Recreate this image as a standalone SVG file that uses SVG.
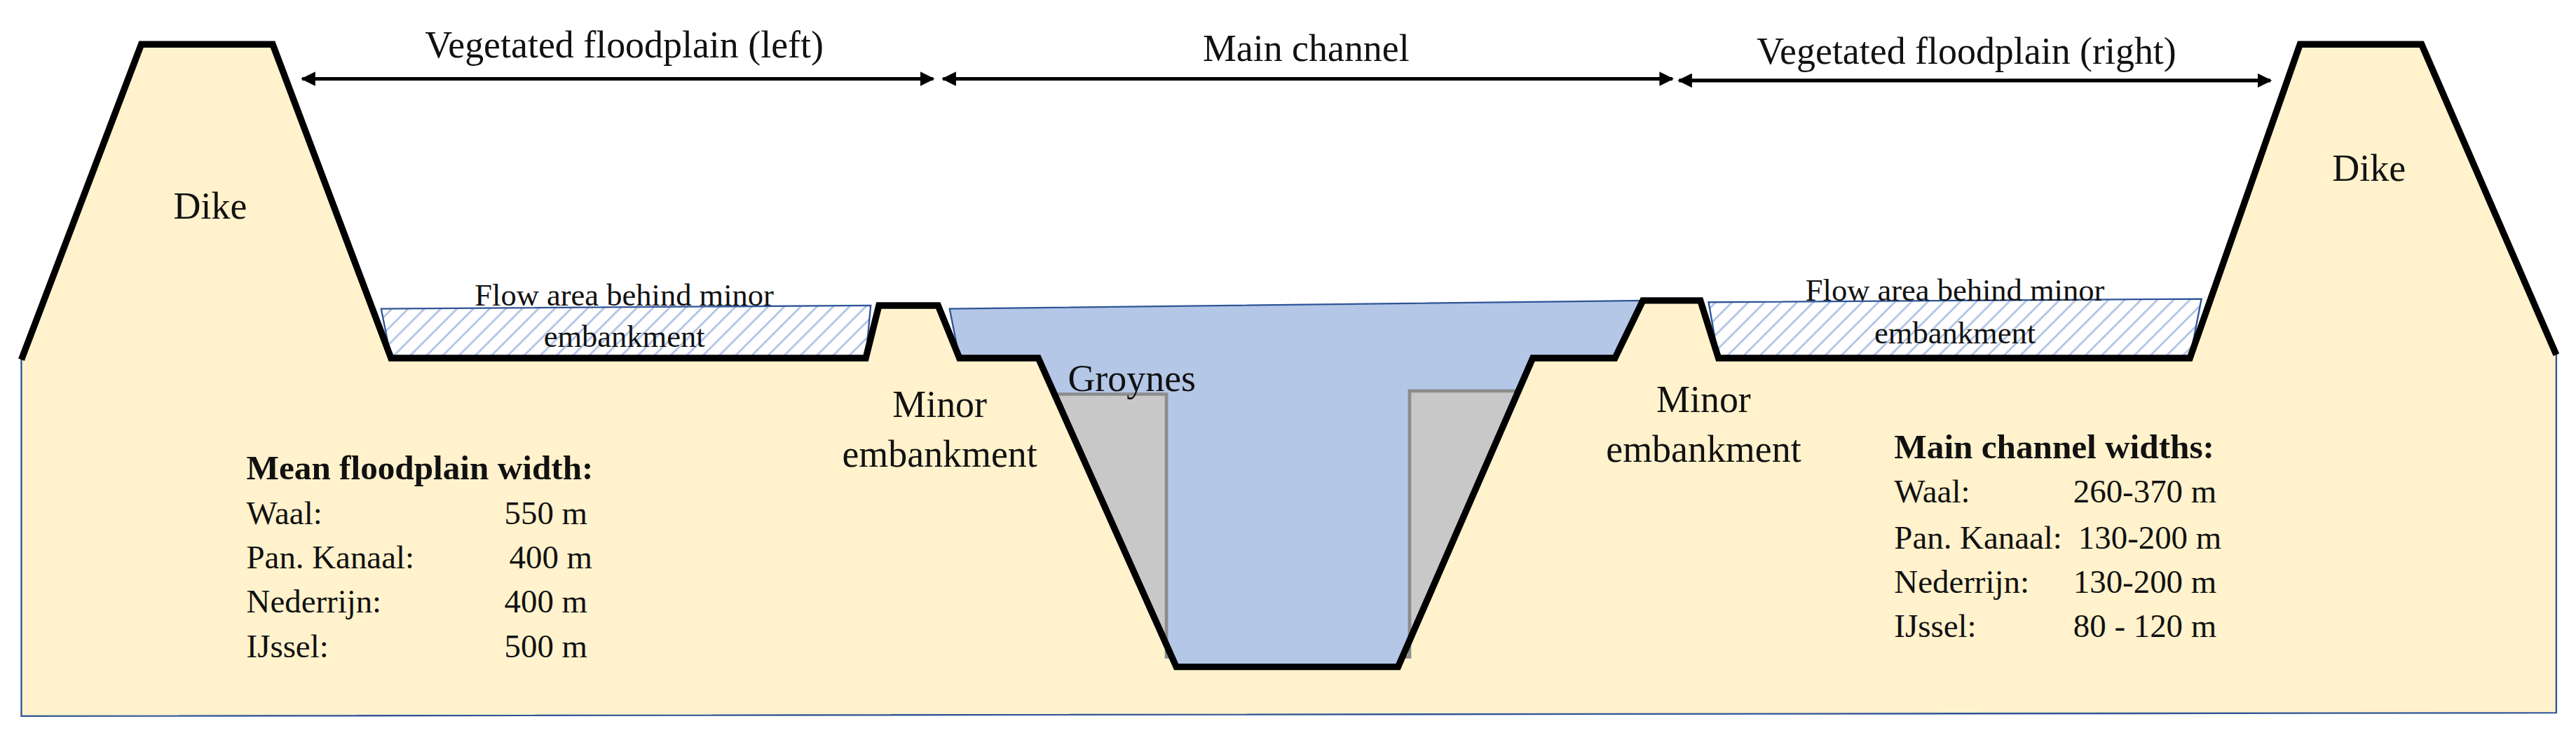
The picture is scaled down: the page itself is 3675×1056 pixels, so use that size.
<svg xmlns="http://www.w3.org/2000/svg" width="3675" height="1056" viewBox="0 0 3675 1056">
<style>
.lbl text{font-family:"Liberation Serif",serif;fill:#111}
.t{font-size:23px}
.s{font-size:19px}
.b{font-size:21px;font-weight:bold}
.r{font-size:20px}
.o{fill:none;stroke:#000;stroke-width:4;stroke-linejoin:miter}
.ar{stroke:#000;stroke-width:2.2;marker-start:url(#a);marker-end:url(#a)}
</style>
<defs>
<marker id="a" viewBox="0 0 10 10" refX="9" refY="5" markerWidth="4" markerHeight="4" orient="auto-start-reverse"><path d="M0,0L10,5L0,10z" fill="#000"/></marker>
<pattern id="h" width="7" height="7" patternUnits="userSpaceOnUse" patternTransform="rotate(45)"><rect width="7" height="7" fill="#fff"/><line x1="0" y1="0" x2="0" y2="7" stroke="#b4c7e7" stroke-width="2.5"/></pattern>
</defs>
<rect width="3675" height="1056" fill="#fff"/>
<g transform="scale(2.34375)">
<g id="ground">
<path d="M13,219 L86,27 L166,27 L238,218 L527,218 L535,186 L571,186 L584,218 L632,218 L716,406 L851,406 L933,218 L983,218 L1000,183 L1035,183 L1046,218 L1333,218 L1400,27 L1474,27 L1556,216 L1556,434 L13,436 Z" fill="#fff2cc" stroke="#2f5597" stroke-width="1"/>
</g>
<g id="water">
<path d="M578,188 L1000,183 L983,218 L933,218 L851,406 L716,406 L632,218 L584,218 Z" fill="#b4c7e7" stroke="#2f5597" stroke-width="1"/>
</g>
<g id="flow-left"><path d="M232,188 L530,186 L527,218 L238,218 Z" fill="url(#h)" stroke="#2f5597" stroke-width="1"/></g>
<g id="flow-right"><path d="M1040,184 L1340,182 L1333,218 L1046,218 Z" fill="url(#h)" stroke="#2f5597" stroke-width="1"/></g>
<g id="groyne-left"><path d="M642,240 L710,240 L710,400 L713,400 Z" fill="#c8c8c8" stroke="#8c8c8c" stroke-width="2"/></g>
<g id="groyne-right"><path d="M858,238 L924,238 L853,400 L858,400 Z" fill="#c8c8c8" stroke="#8c8c8c" stroke-width="2"/></g>
<g id="outline">
<path class="o" d="M13,219 L86,27 L166,27 L238,218 L527,218 L535,186 L571,186 L584,218 L632,218 L716,406 L851,406 L933,218 L983,218 L1000,183 L1035,183 L1046,218 L1333,218 L1400,27 L1474,27 L1556,216"/>
</g>
<g id="connectors">
<line class="ar" x1="184" y1="48" x2="568" y2="48"/>
<line class="ar" x1="574" y1="48" x2="1018" y2="48"/>
<line class="ar" x1="1022" y1="49" x2="1382" y2="49"/>
</g>
<g id="labels" class="lbl">
<text class="t" x="380" y="35" text-anchor="middle">Vegetated floodplain (left)</text>
<text class="t" x="795" y="37" text-anchor="middle">Main channel</text>
<text class="t" x="1197" y="39" text-anchor="middle">Vegetated floodplain (right)</text>
<text class="t" x="128" y="133" text-anchor="middle">Dike</text>
<text class="t" x="1442" y="110" text-anchor="middle">Dike</text>
<text class="s" x="380" y="186" text-anchor="middle">Flow area behind minor</text>
<text class="s" x="380" y="211" text-anchor="middle">embankment</text>
<text class="s" x="1190" y="183" text-anchor="middle">Flow area behind minor</text>
<text class="s" x="1190" y="209" text-anchor="middle">embankment</text>
<text class="t" x="572" y="254" text-anchor="middle">Minor</text>
<text class="t" x="572" y="284" text-anchor="middle">embankment</text>
<text class="t" x="1037" y="251" text-anchor="middle">Minor</text>
<text class="t" x="1037" y="281" text-anchor="middle">embankment</text>
<text class="t" x="650" y="238">Groynes</text>
<text class="b" x="150" y="292">Mean floodplain width:</text>
<text class="r" x="150" y="319">Waal:</text><text class="r" x="307" y="319">550 m</text>
<text class="r" x="150" y="346">Pan. Kanaal:</text><text class="r" x="310" y="346">400 m</text>
<text class="r" x="150" y="373">Nederrijn:</text><text class="r" x="307" y="373">400 m</text>
<text class="r" x="150" y="400">IJssel:</text><text class="r" x="307" y="400">500 m</text>
<text class="b" x="1153" y="279">Main channel widths:</text>
<text class="r" x="1153" y="306">Waal:</text><text class="r" x="1262" y="306">260-370 m</text>
<text class="r" x="1153" y="334">Pan. Kanaal:</text><text class="r" x="1265" y="334">130-200 m</text>
<text class="r" x="1153" y="361">Nederrijn:</text><text class="r" x="1262" y="361">130-200 m</text>
<text class="r" x="1153" y="388">IJssel:</text><text class="r" x="1262" y="388">80 - 120 m</text>
</g>
</g>
</svg>
